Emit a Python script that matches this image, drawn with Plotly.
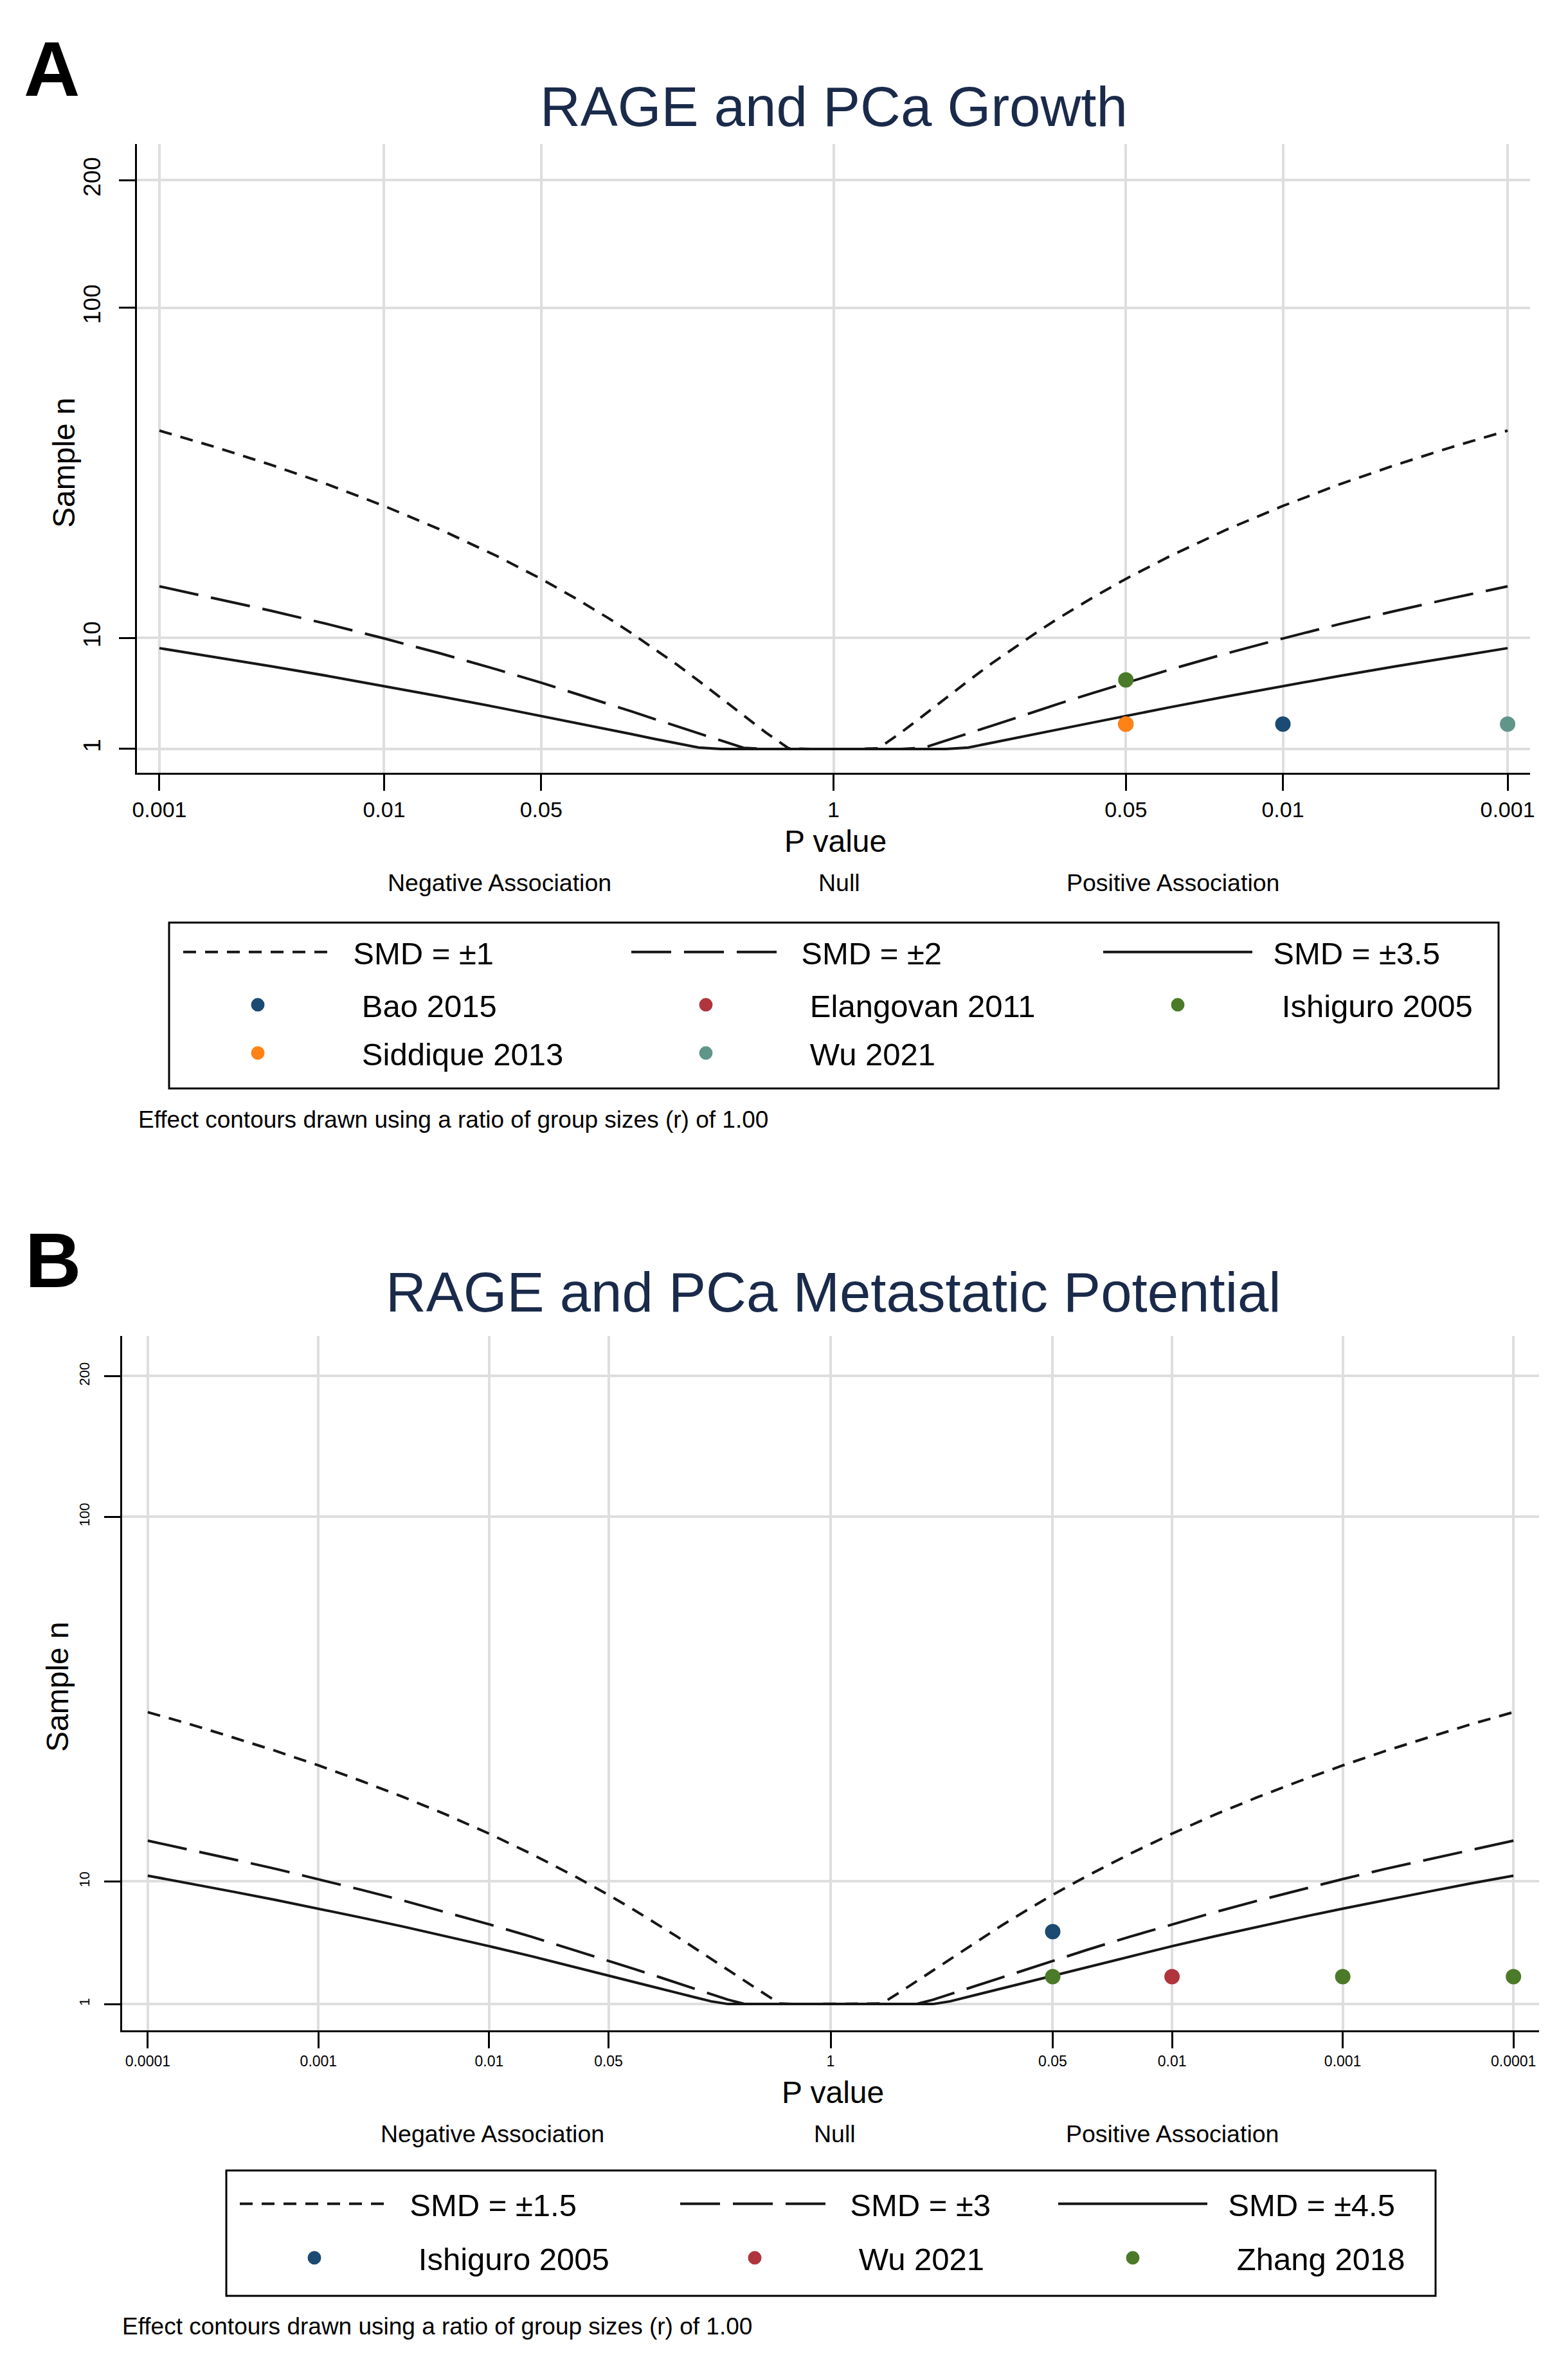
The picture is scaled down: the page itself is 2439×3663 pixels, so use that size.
import numpy as np
import plotly.graph_objects as go

W, H = 2439, 3663
FONT = "Liberation Sans, Arial, Helvetica, sans-serif"

# ---------------- data: panel A (RAGE and PCa Growth) ----------------
# P-values (one side of the plot) at which the effect contours were read
contour_p_A = [1, 0.794, 0.631, 0.501, 0.398, 0.316, 0.251, 0.1995, 0.158, 0.1259,
               0.1, 0.0708, 0.05, 0.0316, 0.01778, 0.01, 0.005623, 0.003162, 0.001778, 0.001]
smd1_n = [1, 1, 1.04, 2.03, 3.21, 4.53, 5.92, 7.41, 8.95, 10.53,
          12.18, 14.68, 17.29, 20.78, 25.28, 29.86, 34.53, 39.21, 43.95, 48.74]
smd2_n = [1, 1, 1, 1, 1.07, 1.51, 1.97, 2.47, 2.98, 3.51,
          4.06, 4.89, 5.76, 6.93, 8.43, 9.95, 11.51, 13.07, 14.65, 16.25]
smd35_n = [1, 1, 1, 1, 1, 1, 1.09, 1.36, 1.64, 1.94,
           2.24, 2.70, 3.18, 3.82, 4.64, 5.49, 6.34, 7.20, 8.07, 8.95]

studies_A = ["Bao 2015", "Elangovan 2011", "Ishiguro 2005", "Siddique 2013", "Wu 2021"]
study_p_A = [0.01, 0.05, 0.05, 0.05, 0.001]
study_side_A = [1, 1, 1, 1, 1]          # +1 = positive association
study_n_A = [2.6, 2.6, 6.0, 2.6, 2.6]
colors_A = ["#1b4a72", "#b0353d", "#4b7b28", "#ff8214", "#609689"]

ticks_p_A = [0.001, 0.01, 0.05, 1, 0.05, 0.01, 0.001]
ticks_side_A = [-1, -1, -1, 0, 1, 1, 1]

# ---------------- data: panel B (RAGE and PCa Metastatic Potential) ----------------
contour_p_B = [1, 0.794, 0.631, 0.501, 0.398, 0.316, 0.251, 0.1995, 0.158, 0.1259,
               0.1, 0.0708, 0.05, 0.0316, 0.01778, 0.01, 0.005623, 0.003162, 0.001778, 0.001,
               0.000562, 0.000316, 0.000178, 0.0001]
smd15_n = [1, 1, 1, 1.03, 1.63, 2.29, 3.00, 3.75, 4.53, 5.33, 6.16, 7.43, 8.75, 10.52,
           12.79, 15.12, 17.48, 19.85, 22.24, 24.67, 27.11, 29.52, 32.03, 34.49]
smd3_n = [1, 1, 1, 1, 1, 1, 1.24, 1.55, 1.88, 2.21, 2.56, 3.08, 3.63, 4.36,
          5.31, 6.27, 7.25, 8.23, 9.22, 10.23, 11.24, 12.24, 13.28, 14.30]
smd45_n = [1, 1, 1, 1, 1, 1, 1, 1.15, 1.39, 1.63, 1.89, 2.28, 2.68, 3.22,
           3.92, 4.63, 5.35, 6.08, 6.81, 7.55, 8.30, 9.04, 9.81, 10.56]

studies_B = ["Ishiguro 2005", "Wu 2021", "Zhang 2018"]
study_p_B = [[0.05], [0.01], [0.05, 0.001, 0.0001]]
study_n_B = [[5.7], [2.6], [2.6, 2.6, 2.6]]
colors_B = ["#1b4a72", "#b0353d", "#4b7b28"]

ticks_p_B = [0.0001, 0.001, 0.01, 0.05, 1, 0.05, 0.01, 0.001, 0.0001]
ticks_side_B = [-1, -1, -1, -1, 0, 1, 1, 1, 1]

y_ticks = [1, 10, 100, 200]


# ---------------- scales ----------------
def xpos(p, side):
    return [s * -np.log10(v) if s != 0 else 0.0 for v, s in zip(p, side)]


def ytr(n):
    return list(np.log(np.asarray(n, dtype=float) + 11.0))


def contour_xy(p, n):
    right_x = [-np.log10(v) for v in p]
    left_x = [-v for v in right_x[::-1]]
    xs = left_x + right_x[1:]
    ns = list(n[::-1]) + list(n[1:])
    return xs, ytr(ns)


NB = "\u00a0"
LINE_PAD = NB * 2
MARK_PAD = NB * 3

fig = go.Figure()
LINE_COL = "#161616"
DASHES = ["20px,14px", "62px,20px", "solid"]

# Panel A contours
for name, nvals, dash, lw in zip(["SMD = \u00b11", "SMD = \u00b12", "SMD = \u00b13.5"],
                                 [smd1_n, smd2_n, smd35_n], DASHES, [450, 487, 440]):
    xs, ys = contour_xy(contour_p_A, nvals)
    fig.add_trace(go.Scatter(x=xs, y=ys, mode="lines", name=LINE_PAD + name,
                             line=dict(color=LINE_COL, width=4, dash=dash),
                             xaxis="x", yaxis="y", legend="legend", legendwidth=lw,
                             hoverinfo="skip"))

row_of_A = ["legend2", "legend2", "legend2", "legend3", "legend3"]
lw_A = [450, 487, 440, 450, 440]
for name, p, s, n, c, lg, lw in zip(studies_A, study_p_A, study_side_A, study_n_A, colors_A, row_of_A, lw_A):
    fig.add_trace(go.Scatter(x=xpos([p], [s]), y=ytr([n]), mode="markers", name=MARK_PAD + name,
                             marker=dict(color=c, size=19, symbol="circle",
                                         line=dict(color=c, width=5)),
                             xaxis="x", yaxis="y", legend=lg, legendwidth=lw))

# Panel B contours
for name, nvals, dash, lw in zip(["SMD = \u00b11.5", "SMD = \u00b13", "SMD = \u00b14.5"],
                                 [smd15_n, smd3_n, smd45_n], DASHES, [438, 341, 420]):
    xs, ys = contour_xy(contour_p_B, nvals)
    fig.add_trace(go.Scatter(x=xs, y=ys, mode="lines", name=LINE_PAD + name,
                             line=dict(color=LINE_COL, width=4, dash=dash),
                             xaxis="x2", yaxis="y2", legend="legend4", legendwidth=lw,
                             hoverinfo="skip"))

for name, ps, ns, c, lw in zip(studies_B, study_p_B, study_n_B, colors_B, [438, 341, 420]):
    fig.add_trace(go.Scatter(x=xpos(ps, [1] * len(ps)), y=ytr(ns), mode="markers",
                             name=MARK_PAD + name,
                             marker=dict(color=c, size=19, symbol="circle",
                                         line=dict(color=c, width=5)),
                             xaxis="x2", yaxis="y2", legend="legend5", legendwidth=lw))


def px_x(v):
    return v / W


def px_y(v):
    return 1 - v / H


YR = [np.log(12) - 0.12, np.log(12) + 3.05]
common_axis = dict(showline=True, linecolor="black", linewidth=3, mirror=False,
                   ticks="outside", ticklen=25, tickwidth=3, tickcolor="black",
                   showgrid=True, gridcolor="#dedede", gridwidth=4, zeroline=False,
                   fixedrange=True)

fig.update_layout(
    xaxis=dict(domain=[px_x(205), px_x(2372)], range=[-3.1, 3.1], anchor="y",
               tickvals=xpos(ticks_p_A, ticks_side_A),
               ticktext=[str(v) for v in ticks_p_A],
               tickfont=dict(size=34, color="black", family=FONT), **common_axis),
    yaxis=dict(domain=[px_y(1194), px_y(216)], range=YR, anchor="x",
               tickvals=ytr(y_ticks), ticktext=[str(v) for v in y_ticks], tickangle=-90,
               ticklabelstandoff=14,
               tickfont=dict(size=37, color="black", family=FONT), **common_axis),
    xaxis2=dict(domain=[px_x(182), px_x(2386)], range=[-4.15, 4.15], anchor="y2",
                tickvals=xpos(ticks_p_B, ticks_side_B),
                ticktext=[str(v) for v in ticks_p_B],
                tickfont=dict(size=23, color="black", family=FONT), **common_axis),
    yaxis2=dict(domain=[px_y(3150), px_y(2070)], range=YR, anchor="x2",
                tickvals=ytr(y_ticks), ticktext=[str(v) for v in y_ticks], tickangle=-90,
                ticklabelstandoff=14,
                tickfont=dict(size=22, color="black", family=FONT), **common_axis),
)

leg_common = dict(orientation="h", xanchor="left", yanchor="middle", borderwidth=0,
                  bgcolor="rgba(0,0,0,0)", itemwidth=232, traceorder="normal",
                  font=dict(size=49, color="black", family=FONT), itemclick=False)
fig.update_layout(
    legend=dict(x=px_x(272), y=px_y(1473), **leg_common),
    legend2=dict(x=px_x(272), y=px_y(1555), **leg_common),
    legend3=dict(x=px_x(272), y=px_y(1630), **leg_common),
    legend4=dict(x=px_x(360), y=px_y(3420), **leg_common),
    legend5=dict(x=px_x(360), y=px_y(3504), **leg_common),
)

shapes = [
    # light reference line at n = 1
    dict(type="line", xref="x domain", yref="y", x0=0, x1=1, y0=ytr([1])[0], y1=ytr([1])[0],
         line=dict(color="#e3eef0", width=4), layer="below"),
    dict(type="line", xref="x2 domain", yref="y2", x0=0, x1=1, y0=ytr([1])[0], y1=ytr([1])[0],
         line=dict(color="#e3eef0", width=4), layer="below"),
    # legend frames
    dict(type="rect", xref="paper", yref="paper", x0=px_x(255), x1=px_x(2323),
         y0=px_y(1685), y1=px_y(1427), line=dict(color="black", width=3)),
    dict(type="rect", xref="paper", yref="paper", x0=px_x(344), x1=px_x(2225),
         y0=px_y(3563), y1=px_y(3368), line=dict(color="black", width=3)),
]

TITLE_COL = "#1a2a4a"


def ann(text, x, y, size, color="black", angle=0, xanchor="center"):
    return dict(text=text, x=px_x(x), y=px_y(y), xref="paper", yref="paper", showarrow=False,
                xanchor=xanchor, yanchor="middle", textangle=angle,
                font=dict(size=size, color=color, family=FONT))


annotations = [
    ann("<b>A</b>", 72, 99, 121),
    ann("RAGE and PCa Growth", 1289, 157, 87, TITLE_COL),
    ann("Sample n", 92, 712, 48, angle=-90),
    ann("P value", 1291, 1300, 48),
    ann("Negative Association", 769, 1365, 37.5),
    ann("Null", 1297, 1365, 37.5),
    ann("Positive Association", 1816, 1365, 37.5),
    ann("Effect contours drawn using a ratio of group sizes (r) of 1.00", 205, 1733, 37,
        xanchor="left"),
    ann("<b>B</b>", 74, 1952, 121),
    ann("RAGE and PCa Metastatic Potential", 1289, 2001, 87, TITLE_COL),
    ann("Sample n", 81, 2616, 48, angle=-90),
    ann("P value", 1288, 3246, 48),
    ann("Negative Association", 758, 3311, 37.5),
    ann("Null", 1290, 3311, 37.5),
    ann("Positive Association", 1815, 3311, 37.5),
    ann("Effect contours drawn using a ratio of group sizes (r) of 1.00", 180, 3610, 37,
        xanchor="left"),
]

fig.update_layout(
    width=W, height=H,
    margin=dict(l=0, r=0, t=0, b=0, autoexpand=False),
    paper_bgcolor="white", plot_bgcolor="white",
    font=dict(family=FONT, color="black"),
    shapes=shapes, annotations=annotations,
    hovermode=False,
)

fig.write_html("out.html")
